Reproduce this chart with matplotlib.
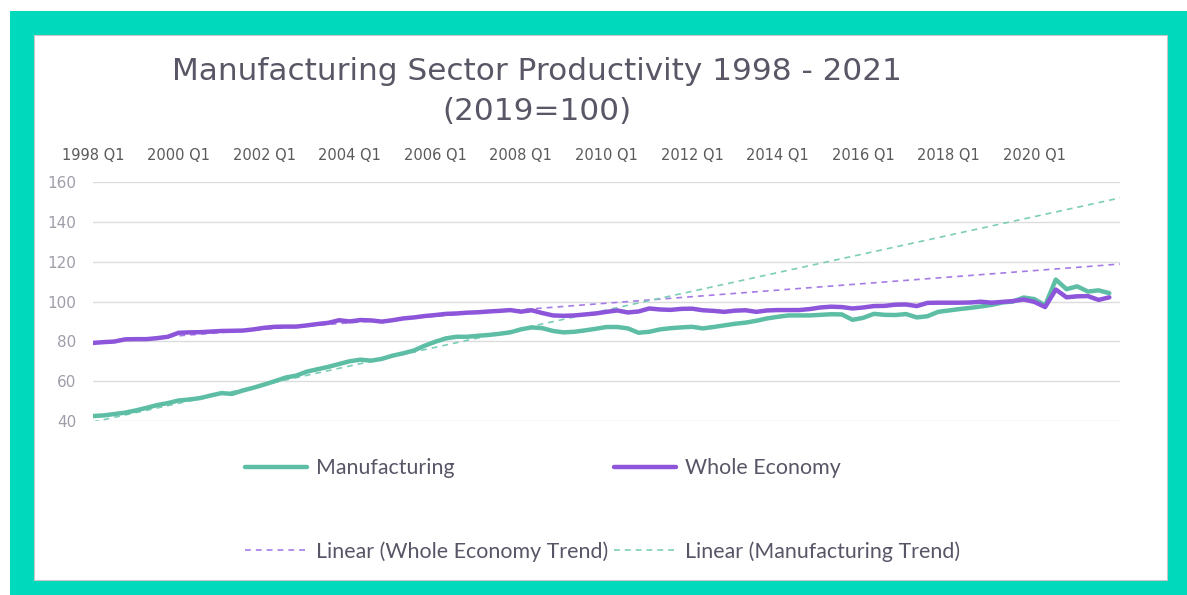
import matplotlib
matplotlib.use("Agg")
import matplotlib.pyplot as plt
from matplotlib.patches import Rectangle

# ---------------- data ----------------
years = list(range(1998, 2022))
quarters = [f"{y} Q{q}" for y in years for q in range(1, 5)]

tick_labels = ["1998 Q1", "2000 Q1", "2002 Q1", "2004 Q1", "2006 Q1", "2008 Q1",
               "2010 Q1", "2012 Q1", "2014 Q1", "2016 Q1", "2018 Q1", "2020 Q1"]

manufacturing = [
    42.5, 42.8, 43.5, 44.2, 45.3, 46.6, 48.0, 49.0, 50.3, 50.8, 51.5, 52.8,
    54.0, 53.6, 55.3, 56.7, 58.3, 60.0, 61.8, 62.8, 64.8, 66.0, 67.2, 68.6,
    70.0, 70.8, 70.3, 71.2, 72.8, 74.0, 75.4, 77.8, 79.8, 81.5, 82.3, 82.3,
    82.8, 83.2, 83.8, 84.5, 86.0, 87.0, 86.6, 85.2, 84.5, 84.8, 85.5, 86.3,
    87.2, 87.2, 86.5, 84.3, 84.8, 86.0, 86.6, 87.0, 87.3, 86.5, 87.2, 88.0,
    88.8, 89.4, 90.3, 91.5, 92.3, 93.0, 93.0, 93.0, 93.3, 93.6, 93.5, 90.8,
    91.8, 93.8, 93.3, 93.2, 93.7, 92.0, 92.6, 94.8, 95.5, 96.2, 96.8, 97.5,
    98.3, 99.5, 100.0, 102.0, 101.2, 98.0, 111.0, 106.2, 107.6, 105.0, 105.6, 104.2,
]

whole_economy = [
    79.2, 79.6, 79.9, 81.0, 81.1, 81.1, 81.6, 82.3, 84.3, 84.5, 84.6, 84.9,
    85.2, 85.3, 85.4, 86.0, 86.8, 87.3, 87.4, 87.4, 88.0, 88.7, 89.3, 90.6,
    90.0, 90.7, 90.5, 89.9, 90.6, 91.5, 92.0, 92.7, 93.2, 93.8, 94.0, 94.4,
    94.6, 95.0, 95.3, 95.7, 94.9, 95.6, 94.2, 93.0, 92.8, 93.0, 93.5, 94.0,
    94.8, 95.5, 94.5, 95.0, 96.5, 96.0, 95.8, 96.3, 96.4, 95.6, 95.3, 94.8,
    95.4, 95.6, 94.8, 95.5, 95.7, 95.7, 95.7, 96.2, 97.0, 97.4, 97.2, 96.5,
    97.0, 97.7, 97.8, 98.4, 98.5, 97.7, 99.3, 99.4, 99.4, 99.4, 99.5, 99.9,
    99.4, 99.8, 100.2, 101.0, 99.8, 97.2, 106.0, 102.1, 102.6, 102.7, 100.8, 102.1,
]

# linear trend lines (start of 1998 Q1 -> one period past the last quarter)
trend_x = [0, len(quarters)]
whole_economy_trend = [79.5, 118.8]
manufacturing_trend = [39.5, 152.0]

# ---------------- style ----------------
GREEN = "#5DBEA5"
PURPLE = "#8C55DA"
GREEN_T = "#7CCDB8"
PURPLE_T = "#A57BE6"
TEAL = "#00D9BC"

W, H = 1187, 595
fig = plt.figure(figsize=(W / 100, H / 100), dpi=100)
fig.patch.set_facecolor("white")

# frame
fig.add_artist(Rectangle((10 / W, 0), 1 - 10 / W, 1 - 11 / H, transform=fig.transFigure,
                         facecolor=TEAL, edgecolor="none", zorder=-10))
fig.add_artist(Rectangle((34 / W, 1 - 580 / H), (1167 - 34) / W, (580 - 35) / H,
                         transform=fig.transFigure, facecolor="white",
                         edgecolor="#C8C8C8", linewidth=0.8, zorder=-9))

ax = fig.add_axes([93 / W, 1 - 421 / H, (1120 - 93) / W, (421 - 182) / H])
ax.set_facecolor("none")

x = list(range(len(quarters)))
l_man, = ax.plot(x, manufacturing, color=GREEN, lw=3.2, solid_capstyle="round",
                 solid_joinstyle="round", zorder=3, label="Manufacturing")
l_we, = ax.plot(x, whole_economy, color=PURPLE, lw=3.2, solid_capstyle="round",
                solid_joinstyle="round", zorder=4, label="Whole Economy")
t_we, = ax.plot(trend_x, whole_economy_trend, color=PURPLE_T, lw=1.2,
                dashes=(3.5, 3), zorder=2, label="Linear (Whole Economy Trend)")
t_man, = ax.plot(trend_x, manufacturing_trend, color=GREEN_T, lw=1.2,
                 dashes=(3.5, 3), zorder=2, label="Linear (Manufacturing Trend)")

ax.set_xlim(0, len(quarters))
ax.set_ylim(40, 160)
ax.set_yticks([40, 60, 80, 100, 120, 140, 160])
ax.yaxis.grid(True, color="#DCDCDC", lw=1.0)
ax.set_axisbelow(True)
for s in ax.spines.values():
    s.set_visible(False)

ax.xaxis.tick_top()
ax.set_xticks([quarters.index(t) for t in tick_labels])
ax.set_xticklabels(tick_labels)
ax.tick_params(axis="x", length=0, pad=14, labelsize=10.5, labelcolor="#5A5A5A")
ax.tick_params(axis="y", length=0, pad=12, labelsize=11, labelcolor="#A09CAA")
for lab in ax.get_xticklabels() + ax.get_yticklabels():
    lab.set_fontfamily("DejaVu Sans")

# title
fig.text(537 / W, 1 - 72 / H, "Manufacturing Sector Productivity 1998 - 2021",
         ha="center", va="center", fontsize=22.4, color="#5A5666", family="DejaVu Sans")
fig.text(537 / W, 1 - 111 / H, "(2019=100)",
         ha="center", va="center", fontsize=22.4, color="#5A5666", family="DejaVu Sans")

# legend: rows -> (Manufacturing, Whole Economy), (Linear WE, Linear Manuf)
leg = fig.legend([l_man, t_we, l_we, t_man],
                 [l_man.get_label(), t_we.get_label(), l_we.get_label(), t_man.get_label()],
                 ncol=2, loc="upper left", bbox_to_anchor=(245 / W, 1 - 458 / H),
                 frameon=False, prop={"family": "Lato", "size": 15.4},
                 handlelength=2.9, handletextpad=0.4, columnspacing=0.3,
                 labelspacing=2.95, borderpad=0, borderaxespad=0)
for t in leg.get_texts():
    t.set_color("#595566")

fig.savefig("out.png", dpi=100, facecolor="white")
